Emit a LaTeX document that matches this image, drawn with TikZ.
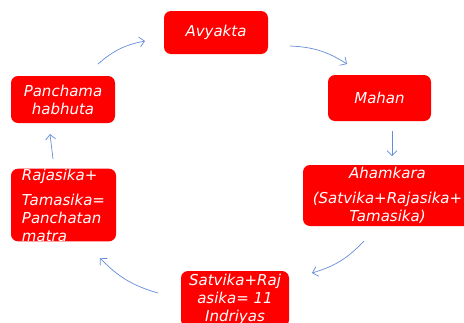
\documentclass[tikz,border=0pt]{standalone}
\usepackage{fontspec}
\setsansfont{DejaVu Sans}
\usetikzlibrary{arrows.meta}
\definecolor{boxred}{RGB}{255,0,0}
\definecolor{flowblue}{RGB}{100,140,215}

\begin{document}
\begin{tikzpicture}[x=1pt,y=1pt,
    box/.style={fill=boxred, rounded corners=7pt, text=white, inner sep=0pt,
        font=\sffamily\itshape\fontsize{15}{18}\selectfont},
    flow/.style={draw=flowblue, line width=0.7pt, -{Straight Barb[length=5pt,width=10pt]}}]
    \useasboundingbox (0,0) rectangle (464,-322);
    \clip (0,0) rectangle (464,-322);

    %Nodes
    \node[box, minimum width=104pt, minimum height=43pt] at (216,-32.5) (avyakta) {Avyakta};
    \node[box, minimum width=103pt, minimum height=46pt] at (379.5,-98) (mahan) {Mahan};
    \node[box, minimum width=169pt, minimum height=61pt, align=center] at (387.5,-195.5) (ahamkara)
        {Ahamkara\\[7pt](Satvika+Rajasika+\\Tamasika)};
    \node[box, minimum width=108pt, minimum height=56pt, align=center] at (235,-299) (indriyas)
        {Satvika+Raj\\asika= 11\\Indriyas};
    \node[box, minimum width=105pt, minimum height=72pt, align=left] at (63.5,-205) (tanmatra)
        {Rajasika+\\[7pt]Tamasika=\\Panchatan\\matra};
    \node[box, minimum width=104pt, minimum height=47pt, align=center] at (63,-99.5) (bhuta)
        {Panchama\\habhuta};

    %Arrow ends
    \coordinate (a1) at (290,-46);  \coordinate (a2) at (347,-64);
    \coordinate (b1) at (392,-131); \coordinate (b2) at (392,-156);
    \coordinate (c1) at (364,-241); \coordinate (c2) at (312,-273);
    \coordinate (d1) at (158,-293); \coordinate (d2) at (100,-258);
    \coordinate (e1) at (53,-159);  \coordinate (e2) at (50,-134);
    \coordinate (f1) at (98,-64);   \coordinate (f2) at (145,-41);

    %Lines
    \draw[flow] (a1) to[bend left=15] (a2);
    \draw[flow] (b1) -- (b2);
    \draw[flow] (c1) to[bend left=15] (c2);
    \draw[flow] (d1) to[bend left=15] (d2);
    \draw[flow] (e1) -- (e2);
    \draw[flow] (f1) to[bend left=15] (f2);
\end{tikzpicture}
\end{document}
